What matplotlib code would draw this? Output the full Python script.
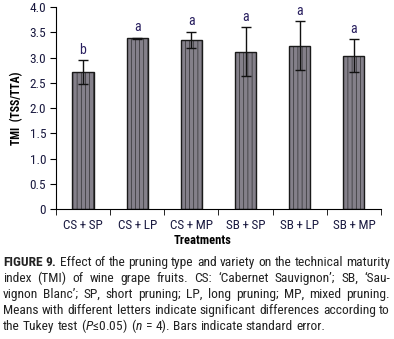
import numpy as np
import matplotlib.pyplot as plt

treatments = ["CS\u2009+\u2009SP", "CS\u2009+\u2009LP", "CS\u2009+\u2009MP",
              "SB\u2009+\u2009SP", "SB\u2009+\u2009LP", "SB\u2009+\u2009MP"]
tmi = [2.71, 3.38, 3.35, 3.12, 3.24, 3.04]
se = [0.24, 0.01, 0.16, 0.48, 0.48, 0.32]
letters = ["b", "a", "a", "a", "a", "a"]
yticks = [0, 0.5, 1.0, 1.5, 2.0, 2.5, 3.0, 3.5, 4.0]
ytick_labels = ["0", "0.5", "1.0", "1.5", "2.0", "2.5", "3.0", "3.5", "4.0"]

caption = [
    "FIGURE 9. Effect of the pruning type and variety on the technical maturity",
    "index (TMI) of wine grape fruits. CS: \u2018Cabernet Sauvignon\u2019; SB, \u2018Sau-",
    "vignon Blanc\u2019; SP, short pruning; LP, long pruning; MP, mixed pruning.",
    "Means with different letters indicate significant differences according to",
    "the Tukey test ($P$\u22640.05) ($n$ = 4). Bars indicate standard error.",
]

plt.rcParams["font.family"] = ["Roboto Condensed", "DejaVu Sans"]
plt.rcParams["mathtext.fontset"] = "custom"
plt.rcParams["mathtext.it"] = "Roboto Condensed:italic"
plt.rcParams["mathtext.rm"] = "Roboto Condensed"
plt.rcParams["hatch.color"] = "#9a9690"
plt.rcParams["hatch.linewidth"] = 0.4

fig = plt.figure(figsize=(3.94, 3.39), dpi=100)
ax = fig.add_axes([0.142, 0.383, 0.825, 0.596])

x = np.arange(len(treatments))
ax.bar(x, tmi, width=0.39, color="#84808a", edgecolor="#1a1a1a", linewidth=1.0,
       hatch="||||", zorder=2)
ax.errorbar(x, tmi, yerr=se, fmt="none", ecolor="#111111", elinewidth=1.0,
            capsize=3.5, capthick=1.0, zorder=3)
for xi, v, s, l in zip(x, tmi, se, letters):
    ax.text(xi, v + s + 0.07, l, ha="center", va="bottom", fontsize=10,
            color="#2a2060")

ax.set_xlim(-0.5, len(treatments) - 0.5)
ax.set_ylim(0, 4.0)
ax.set_yticks(yticks)
ax.set_yticklabels(ytick_labels, fontsize=9.5, color="#1a1a40")
ax.set_xticks(x)
ax.set_xticklabels(treatments, fontsize=9.5, color="#1a1a40")
ax.tick_params(axis="x", length=0, pad=7)
ax.set_xticks(np.arange(len(treatments) + 1) - 0.5, minor=True)
ax.tick_params(axis="x", which="minor", length=4, direction="out")
ax.tick_params(axis="y", length=4, direction="out", pad=3)
for s in ["top", "right"]:
    ax.spines[s].set_visible(False)
ax.set_ylabel("TMI  (TSS/TTA)", fontsize=8.5, fontweight="bold")
ax.yaxis.set_label_coords(-0.10, 0.5)
ax.set_xlabel("Treatments", fontsize=9, fontweight="bold")
ax.xaxis.set_label_coords(0.452, -0.125)

# caption, justified like the printed page (last line left aligned)
W, H = 394, 339
left, right = 3, 390
fig.canvas.draw()
renderer = fig.canvas.get_renderer()
for i, line in enumerate(caption):
    y = 1 - (266 + 16 * i) / H
    words = line.split(" ")
    arts = []
    for k, w in enumerate(words):
        bold = i == 0 and k < 2
        t = fig.text(0, y, w, fontsize=9.7, va="baseline", color="#222222",
                     fontweight="bold" if bold else "normal")
        arts.append(t)
    widths = [a.get_window_extent(renderer).width for a in arts]
    if i < len(caption) - 1:
        gap = (right - left - sum(widths)) / (len(words) - 1)
    else:
        sp = fig.text(0, 0, "a a", fontsize=9.7)
        sa = fig.text(0, 0, "aa", fontsize=9.7)
        gap = sp.get_window_extent(renderer).width - sa.get_window_extent(renderer).width
        sp.remove()
        sa.remove()
    xpos = left
    for a, wd in zip(arts, widths):
        a.set_x(xpos / W)
        xpos += wd + gap

fig.savefig("out.png", dpi=100)
